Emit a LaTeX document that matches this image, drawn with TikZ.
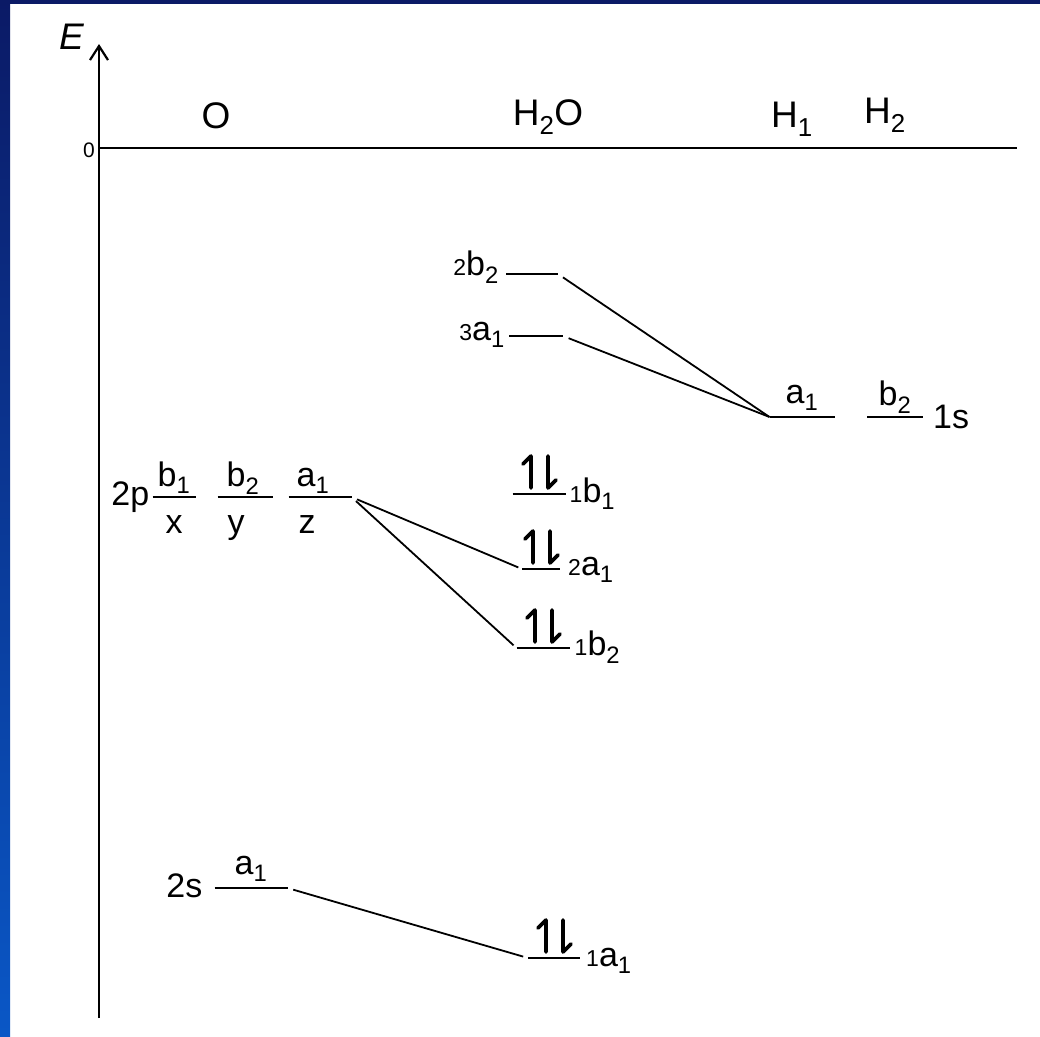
\documentclass[tikz,border=0pt]{standalone}
\usepackage{fontspec}
\setmainfont{Liberation Sans}
\usetikzlibrary{arrows.meta,positioning}
\definecolor{navy}{HTML}{0B1A66}
\definecolor{royal}{HTML}{0A57C6}
\newcommand\orb[3]{{\fontsize{23}{23}\selectfont #1}#2\textsubscript{#3}}
\newcommand\spinpair[1]{%
  \draw[spin] ([xshift=-8pt,yshift=6pt]#1.center) -- ++(0,-32) -- ++(-8,8);
  \draw[spin] ([xshift=9pt,yshift=38pt]#1.center) -- ++(0,32) -- ++(8,-8);}

\begin{document}
\begin{tikzpicture}[x=1pt,y=-1pt,
  head/.style={font=\fontsize{37}{40}\selectfont,inner sep=0pt,anchor=base},
  lab/.style={font=\fontsize{34}{36}\selectfont,inner sep=0pt},
  lvl/.style={minimum width=#1,minimum height=0pt,inner sep=0pt,outer sep=0pt},
  bar/.style={line width=2.2pt},
  link/.style={line width=1.8pt,shorten <=6pt},
  spin/.style={line width=3.6pt,line cap=round,line join=round}]
  \useasboundingbox (0,0) rectangle (1040,1036);
  % frame
  \fill[white] (0,0) rectangle (1040,1036);
  \fill[navy] (0,0) rectangle (1040,4);
  \shade[top color=navy,bottom color=royal] (0,0) rectangle (10,1036);

  % energy axis and zero line
  \coordinate (Ebase) at (99,1018);
  \coordinate (Etip) at (99,44);
  \coordinate (zero) at (99,148);
  \coordinate (zeroend) at (1017,148);
  \draw[bar,-{Straight Barb[length=14pt,width=18pt]}] (Ebase) -- (Etip);
  \draw[bar] (zero) -- (zeroend);
  \node[font=\fontsize{37}{40}\selectfont\itshape,inner sep=0pt] (E) at (72,37) {E};
  \node[font=\fontsize{21}{22}\selectfont,inner sep=0pt] (zlab) at (89,150) {0};

  % column heads
  \node[head] (hO) at (216,128) {O};
  \node[head] (hW) at (548,125) {H\textsubscript{2}O};
  \node[head] (hA) at (792,127) {H\textsubscript{1}};
  \node[head] (hB) at (885,123) {H\textsubscript{2}};

  % levels
  \node[lvl=52] (l2b2) at (532,274) {};
  \node[lvl=54] (l3a1) at (536,336) {};
  \node[lvl=65] (ha1) at (802,417) {};
  \node[lvl=56] (hb2) at (895,417) {};
  \node[lvl=43] (px) at (174,497) {};
  \node[lvl=55] (py) at (245,497) {};
  \node[lvl=63] (pz) at (320,497) {};
  \node[lvl=53] (l1b1) at (539,494) {};
  \node[lvl=38] (l2a1) at (541,569) {};
  \node[lvl=53] (l1b2) at (543,648) {};
  \node[lvl=73] (sa1) at (251,888) {};
  \node[lvl=52] (l1a1) at (554,958) {};
  \foreach \n in {l2b2,l3a1,ha1,hb2,px,py,pz,l1b1,l2a1,l1b2,sa1,l1a1}
    \draw[bar] (\n.west) -- (\n.east);

  % correlation lines
  \draw[link] (l2b2.east) -- (ha1.west);
  \draw[link] (l3a1.east) -- (ha1.west);
  \draw[link,shorten >=4pt] (pz.east) -- (l2a1.west);
  \draw[link,shorten >=4pt] (pz.east) -- (l1b2.west);
  \draw[link,shorten >=5pt] (sa1.east) -- (l1a1.west);

  % labels
  \node[lab,anchor=base east] (t2b2) at ([xshift=-7pt,yshift=-1pt]l2b2.west) {\orb{2}{b}{2}};
  \node[lab,anchor=base east] (t3a1) at ([xshift=-4pt,yshift=-4pt]l3a1.west) {\orb{3}{a}{1}};
  \node[lab,anchor=base] (tha1) at ([yshift=14pt]ha1.center) {a\textsubscript{1}};
  \node[lab,anchor=base] (thb2) at ([yshift=12pt]hb2.center) {b\textsubscript{2}};
  \node[lab,anchor=base west] (t1s) at ([xshift=10pt,yshift=-11pt]hb2.east) {1s};
  \node[lab,anchor=base east] (t2p) at ([xshift=-3pt,yshift=-8pt]px.west) {2p};
  \node[lab,anchor=base] (tpb1) at ([yshift=11pt]px.center) {b\textsubscript{1}};
  \node[lab,anchor=base] (tpb2) at ([xshift=-2pt,yshift=11pt]py.center) {b\textsubscript{2}};
  \node[lab,anchor=base] (tpa1) at ([xshift=-7pt,yshift=11pt]pz.center) {a\textsubscript{1}};
  \node[lab,anchor=base] (tx) at ([yshift=-36pt]px.center) {x};
  \node[lab,anchor=base] (ty) at ([xshift=-9pt,yshift=-36pt]py.center) {y};
  \node[lab,anchor=base] (tz) at ([xshift=-13pt,yshift=-36pt]pz.center) {z};
  \node[lab,anchor=base west] (t1b1) at ([xshift=4pt,yshift=-8pt]l1b1.east) {\orb{1}{b}{1}};
  \node[lab,anchor=base west] (t2a1) at ([xshift=8pt,yshift=-6pt]l2a1.east) {\orb{2}{a}{1}};
  \node[lab,anchor=base west] (t1b2) at ([xshift=5pt,yshift=-7pt]l1b2.east) {\orb{1}{b}{2}};
  \node[lab,anchor=base east] (t2s) at ([xshift=-12pt,yshift=-9pt]sa1.west) {2s};
  \node[lab,anchor=base] (tsa1) at ([yshift=14pt]sa1.center) {a\textsubscript{1}};
  \node[lab,anchor=base west] (t1a1) at ([xshift=6pt,yshift=-8pt]l1a1.east) {\orb{1}{a}{1}};

  % electron pairs
  \spinpair{l1b1}
  \spinpair{l2a1}
  \spinpair{l1b2}
  \spinpair{l1a1}
\end{tikzpicture}
\end{document}
